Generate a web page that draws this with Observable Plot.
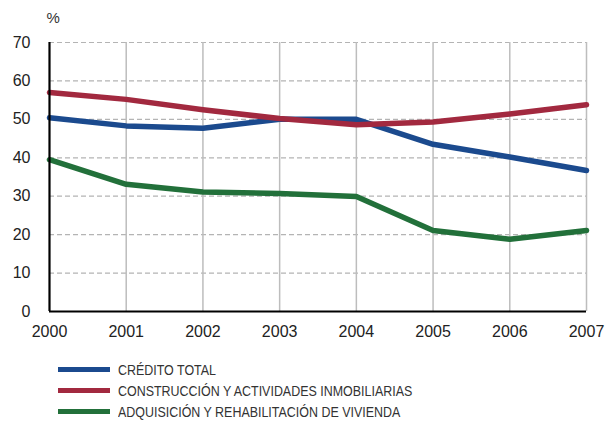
<!DOCTYPE html>
<html>
<head>
<meta charset="utf-8">
<script src="https://cdn.jsdelivr.net/npm/d3@7"></script>
<script src="https://cdn.jsdelivr.net/npm/@observablehq/plot@0.6"></script>
<style>
  body { margin: 0; background: #fff; font-family: "Liberation Sans", Arial, sans-serif; }
  #chart { width: 606px; }
  .legend { margin: 14px 0 0 58px; font-family: "Liberation Sans", Arial, sans-serif; font-size: 15px; color: #333; }
  .legend .row { display: flex; align-items: center; height: 21px; }
  .legend .sw { width: 52px; height: 5px; margin-right: 8px; flex: none; }
  .legend .txt { display: inline-block; white-space: nowrap; transform: scaleX(0.83); transform-origin: left center; }
</style>
</head>
<body>
<div id="chart"></div>
<script>
// Years on the horizontal axis
const years = [2000, 2001, 2002, 2003, 2004, 2005, 2006, 2007];

// Series (%)
const seriesNames = [
  "CRÉDITO TOTAL",
  "CONSTRUCCIÓN Y ACTIVIDADES INMOBILIARIAS",
  "ADQUISICIÓN Y REHABILITACIÓN DE VIVIENDA"
];
const creditoTotal = [50.4, 48.3, 47.7, 50.0, 50.0, 43.5, 40.2, 36.7];
const construccion = [57.0, 55.2, 52.5, 50.2, 48.6, 49.3, 51.4, 53.8];
const vivienda     = [39.5, 33.1, 31.1, 30.7, 29.9, 21.1, 18.8, 21.1];
const seriesColors = ["#1b4a8e", "#a2293f", "#22703a"];

const yTicks = [0, 10, 20, 30, 40, 50, 60, 70];

const rows = [];
[creditoTotal, construccion, vivienda].forEach((vals, s) => {
  vals.forEach((v, i) => rows.push({year: years[i], value: v, serie: seriesNames[s]}));
});

const chart = Plot.plot({
  width: 606,
  height: 345,
  marginLeft: 49,
  marginRight: 20,
  marginTop: 42,
  marginBottom: 34,
  style: {fontFamily: "'Liberation Sans', Arial, sans-serif", fontSize: "16px", color: "#222"},
  x: {domain: [2000, 2007]},
  y: {domain: [0, 70]},
  color: {domain: seriesNames, range: seriesColors},
  marks: [
    // horizontal dashed grid
    Plot.ruleY(yTicks.filter(d => d > 0), {stroke: "#b4b4b4", strokeDasharray: "5,3", strokeWidth: 1.2}),
    // vertical grid
    Plot.ruleX(years.filter(d => d > 2000), {stroke: "#bdbdbd", strokeWidth: 1.5}),
    Plot.axisY(yTicks, {tickSize: 0, tickPadding: 19, label: null, fontSize: 16}),
    Plot.axisX(years, {tickSize: 0, tickPadding: 14, tickFormat: d => String(d), label: null, fontSize: 16}),
    Plot.text(["%"], {frameAnchor: "top-left", dx: -3, dy: -30, textAnchor: "start", fontSize: 15, fill: "#333"}),
    Plot.line(rows, {x: "year", y: "value", z: "serie", stroke: "serie", strokeWidth: 5.5, strokeLinejoin: "round"}),
    Plot.ruleX([2000], {stroke: "#000", strokeWidth: 2.2}),
    Plot.ruleY([0], {stroke: "#000", strokeWidth: 2.2})
  ]
});
document.getElementById("chart").append(chart);

// Legend below the chart
const legend = document.createElement("div");
legend.className = "legend";
seriesNames.forEach((name, i) => {
  const row = document.createElement("div");
  row.className = "row";
  const sw = document.createElement("span");
  sw.className = "sw";
  sw.style.background = seriesColors[i];
  const label = document.createElement("span");
  label.className = "txt";
  label.textContent = name;
  row.append(sw, label);
  legend.append(row);
});
document.getElementById("chart").append(legend);
</script>
</body>
</html>
